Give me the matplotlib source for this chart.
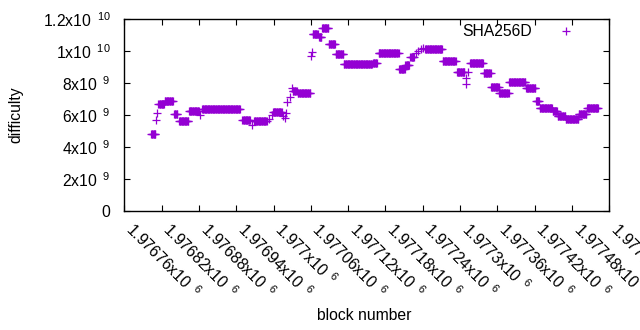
import numpy as np
import matplotlib
matplotlib.use("Agg")
import matplotlib.pyplot as plt
from matplotlib.ticker import FixedLocator, FuncFormatter

plt.rcParams['font.family'] = ['Liberation Sans', 'DejaVu Sans']
plt.rcParams['mathtext.fontset'] = 'custom'
plt.rcParams['mathtext.rm'] = 'Liberation Sans'
plt.rcParams['mathtext.it'] = 'Liberation Sans'
plt.rcParams['mathtext.default'] = 'regular'

# Runs of consecutive blocks sharing one difficulty value
seg_start = [1976803, 1976815, 1976825, 1976840, 1976848, 1976864, 1976885, 1976950,
             1976969, 1976999, 1977031, 1977039, 1977063, 1977073, 1977078, 1977089,
             1977100, 1977113, 1977160, 1977169, 1977202, 1977212, 1977220, 1977244,
             1977272, 1977295, 1977316, 1977338, 1977350, 1977363, 1977379, 1977406,
             1977422, 1977428, 1977449, 1977457, 1977470, 1977491, 1977504]
seg_end = [1976810, 1976824, 1976838, 1976845, 1976863, 1976880, 1976946, 1976962,
           1976989, 1977013, 1977037, 1977059, 1977071, 1977077, 1977088, 1977099,
           1977112, 1977158, 1977166, 1977201, 1977211, 1977218, 1977226, 1977271,
           1977293, 1977307, 1977337, 1977349, 1977362, 1977378, 1977405, 1977421,
           1977427, 1977448, 1977456, 1977469, 1977490, 1977503, 1977522]
seg_value = [4.80e9, 6.70e9, 6.87e9, 6.05e9, 5.60e9, 6.22e9, 6.37e9, 5.68e9,
             5.62e9, 6.18e9, 7.52e9, 7.40e9, 11.05e9, 10.85e9, 11.42e9, 10.42e9,
             9.80e9, 9.17e9, 9.23e9, 9.90e9, 8.85e9, 9.14e9, 9.62e9, 10.12e9,
             9.36e9, 8.66e9, 9.23e9, 8.60e9, 7.73e9, 7.35e9, 8.04e9, 7.67e9,
             6.86e9, 6.42e9, 6.25e9, 5.92e9, 5.73e9, 6.04e9, 6.42e9]

# Isolated blocks
pt_block = [1976811, 1976813, 1976881, 1976965, 1976993, 1976997, 1977015, 1977018,
            1977020, 1977022, 1977026, 1977029, 1977061, 1977062, 1977229, 1977233,
            1977237, 1977241, 1977309, 1977310, 1977313]
pt_value = [5.70e9, 6.10e9, 6.00e9, 5.37e9, 5.75e9, 6.00e9, 5.95e9, 5.80e9,
            6.15e9, 6.83e9, 7.15e9, 7.67e9, 9.70e9, 9.95e9, 9.85e9, 10.00e9,
            10.10e9, 10.20e9, 8.34e9, 7.94e9, 8.70e9]

x_ticks = [1976760 + 60 * i for i in range(14)]
y_ticks = [0, 2e9, 4e9, 6e9, 8e9, 1e10, 1.2e10]

blocks, diffs = [], []
for s, e, v in zip(seg_start, seg_end, seg_value):
    b = np.arange(s, e + 1)
    blocks.extend(b)
    diffs.extend([v] * len(b))
blocks.extend(pt_block)
diffs.extend(pt_value)

FS = 11.3

fig = plt.figure(figsize=(6.4, 3.3), dpi=100)
ax = fig.add_axes([124.3 / 640, 1 - 211 / 330, (609.3 - 124.3) / 640, (211 - 19) / 330])
color = '#9400D3'
ax.plot(blocks, diffs, linestyle='none', marker='+', markersize=5.5,
        markeredgewidth=0.9, color=color, label='SHA256D')

ax.set_xlim(1976760, 1977540)
ax.set_ylim(0, 1.2e10)
ax.xaxis.set_major_locator(FixedLocator(x_ticks))
ax.yaxis.set_major_locator(FixedLocator(y_ticks))


def fmt_sci(v):
    if v == 0:
        return '0'
    e = int(np.floor(np.log10(abs(v)) + 1e-9))
    m = v / 10 ** e
    return '%gx10 $\\,^{%d}$' % (round(m, 6), e)


ax.xaxis.set_major_formatter(FuncFormatter(lambda v, p: fmt_sci(v)))
ax.yaxis.set_major_formatter(FuncFormatter(lambda v, p: fmt_sci(v)))

ax.tick_params(direction='in', top=True, right=True, length=4, width=0.8,
               labelsize=FS, colors='black')
ax.tick_params(axis='y', pad=10)
ax.tick_params(axis='x', pad=14)
for lab in ax.get_xticklabels():
    lab.set_rotation(-45)
    lab.set_ha('left')
    lab.set_va('baseline')
    lab.set_rotation_mode('anchor')

for sp in ax.spines.values():
    sp.set_linewidth(1.0)
    sp.set_color('black')

ax.set_xlabel('block number', fontsize=FS, labelpad=0)
ax.xaxis.set_label_coords(0.495, -0.505)
ax.set_ylabel('difficulty', fontsize=FS)
ax.yaxis.set_label_coords(-0.208, 0.5)

leg = ax.legend(loc='center right', bbox_to_anchor=(582 / 640, 1 - 32 / 330),
                bbox_transform=fig.transFigure, frameon=False, markerfirst=False,
                handlelength=2.0, handletextpad=1.2, borderpad=0, borderaxespad=0,
                numpoints=1, fontsize=FS)

fig.savefig('out.png', dpi=100)
